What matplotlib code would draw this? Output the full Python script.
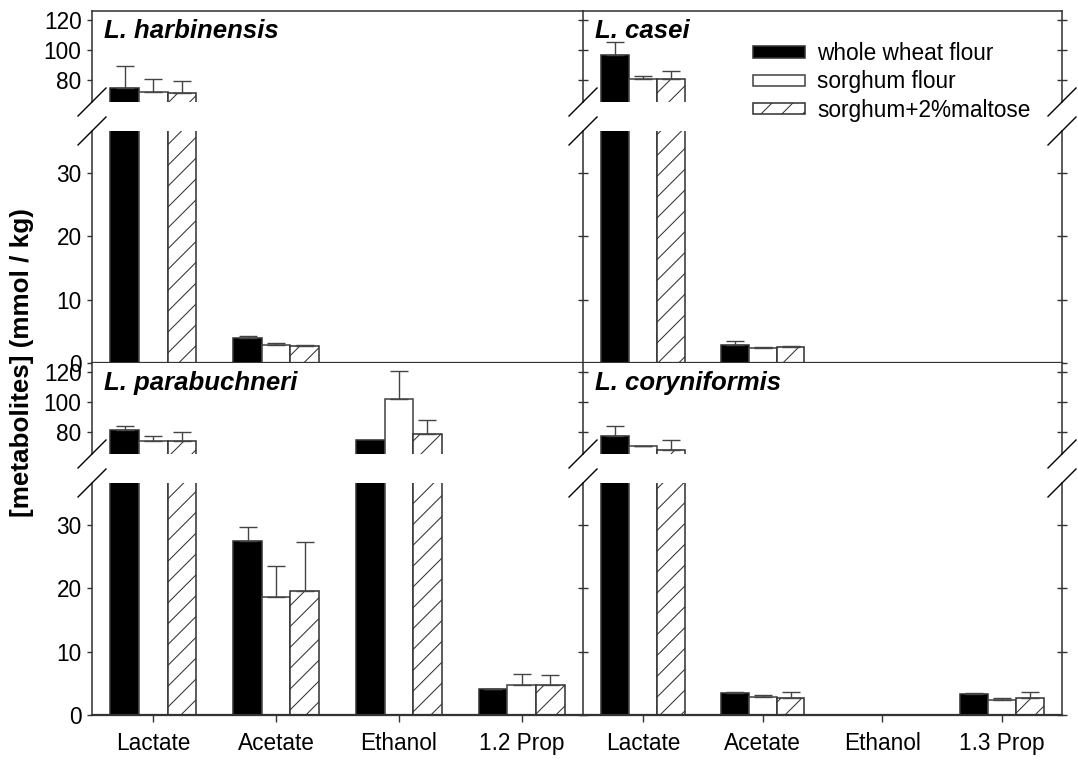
import matplotlib.pyplot as plt
from matplotlib.lines import Line2D
from matplotlib.patches import Patch
import numpy as np

plt.rcParams['font.family'] = ['Liberation Sans', 'DejaVu Sans']
plt.rcParams['hatch.linewidth'] = 0.6

# metabolite categories on the x axis
cats_left = ['Lactate', 'Acetate', 'Ethanol', '1.2 Prop']
cats_right = ['Lactate', 'Acetate', 'Ethanol', '1.3 Prop']
series_names = ['whole wheat flour', 'sorghum flour', 'sorghum+2%maltose']

# mmol / kg, order: Lactate, Acetate, Ethanol, Prop
harb_wheat = [74.7, 3.9, 0, 0]
harb_wheat_err = [14.8, 0.4, 0, 0]
harb_sorghum = [72.2, 2.85, 0, 0]
harb_sorghum_err = [8.3, 0.25, 0, 0]
harb_maltose = [71.1, 2.7, 0, 0]
harb_maltose_err = [8.0, 0.1, 0, 0]

casei_wheat = [96.7, 2.85, 0, 0]
casei_wheat_err = [8.3, 0.65, 0, 0]
casei_sorghum = [80.6, 2.4, 0, 0]
casei_sorghum_err = [2.2, 0.2, 0, 0]
casei_maltose = [80.6, 2.5, 0, 0]
casei_maltose_err = [5.3, 0.15, 0, 0]

parab_wheat = [81.5, 27.5, 74.9, 4.1]
parab_wheat_err = [2.2, 2.1, 0, 0.05]
parab_sorghum = [74.1, 18.6, 102.2, 4.8]
parab_sorghum_err = [3.0, 4.9, 18.6, 1.6]
parab_maltose = [74.1, 19.5, 78.7, 4.8]
parab_maltose_err = [5.6, 7.8, 9.0, 1.45]

coryn_wheat = [77.1, 3.45, 0, 3.35]
coryn_wheat_err = [6.9, 0.1, 0, 0.05]
coryn_sorghum = [70.4, 2.9, 0, 2.3]
coryn_sorghum_err = [0.4, 0.3, 0, 0.45]
coryn_maltose = [68.0, 2.65, 0, 2.75]
coryn_maltose_err = [6.7, 0.9, 0, 0.8]

W, H = 1078, 765
DPI = 125
fig = plt.figure(figsize=(W / DPI, H / DPI), dpi=DPI)


def rect(x0, y0, x1, y1):
    # pixel box (y down) -> figure fraction box
    return [x0 / W, 1 - y1 / H, (x1 - x0) / W, (y1 - y0) / H]


def fx(x):
    return x / W


def fy(y):
    return 1 - y / H


spine_col = '#333333'
styles = [dict(color='black', edgecolor='#333333'),
          dict(color='white', edgecolor='#444444'),
          dict(color='white', edgecolor='#333333', hatch='//')]
bw = 0.233
offsets = [-bw, 0, bw]
tick_fs = 13


def break_mark(x, y):
    d = 14
    fig.add_artist(Line2D([fx(x - d), fx(x + d)], [fy(y + d), fy(y - d)],
                          color='black', lw=0.8))


def panel(col, row, name, cats, vals, errs):
    x0, x1 = [(92, 583), (583, 1062)][col]
    ytop = [11, 363][row]
    ax_hi = fig.add_axes(rect(x0, ytop, x1, ytop + 91))
    ax_lo = fig.add_axes(rect(x0, ytop + 120, x1, ytop + 352))
    x = np.arange(len(cats))
    for ax in (ax_hi, ax_lo):
        for i in range(3):
            ax.bar(x + offsets[i], vals[i], bw, linewidth=0.9, **styles[i])
            e = np.array(errs[i])
            m = e > 0
            ax.errorbar((x + offsets[i])[m], np.array(vals[i])[m],
                        yerr=[np.zeros(m.sum()), e[m]], fmt='none',
                        ecolor='#444444', elinewidth=0.8, capsize=5,
                        capthick=0.8)
        ax.set_xlim(-0.5, 3.5)
        for s in ax.spines.values():
            s.set_color(spine_col)
            s.set_linewidth(0.9)
        ax.tick_params(axis='both', colors=spine_col, labelcolor='black',
                       labelsize=tick_fs, width=0.8, length=3)
    ax_hi.set_ylim(65.3, 126)
    ax_lo.set_ylim(0, 36.6)
    ax_hi.set_yticks([80, 100, 120])
    ax_lo.set_yticks([0, 10, 20, 30])
    ax_hi.spines['bottom'].set_visible(False)
    ax_lo.spines['top'].set_visible(False)
    ax_lo.spines['bottom'].set_linewidth(1.3)
    ax_hi.set_xticks([])
    if row == 1:
        ax_lo.set_xticks(x)
        ax_lo.set_xticklabels(cats)
        ax_lo.tick_params(axis='x', length=4, pad=6)
    else:
        ax_lo.set_xticks([])
    if col == 0:
        for ax in (ax_hi, ax_lo):
            ax.spines['right'].set_visible(False)
            ax.tick_params(axis='y', direction='out', pad=3)
    else:
        for ax in (ax_hi, ax_lo):
            ax.tick_params(axis='y', direction='inout', length=6,
                           labelleft=False, right=True)
    if row == 1:
        ax_hi.spines['top'].set_visible(False)
    for xs in ([x0] if col == 0 else [x0, x1]):
        break_mark(xs, ytop + 91)
        break_mark(xs, ytop + 120)
    fig.text(fx(x0 + 12), fy(ytop + 27), name, fontsize=14.8,
             fontweight='bold', fontstyle='italic', va='baseline')
    return ax_hi


panel(0, 0, 'L. harbinensis', cats_left,
      [harb_wheat, harb_sorghum, harb_maltose],
      [harb_wheat_err, harb_sorghum_err, harb_maltose_err])
panel(1, 0, 'L. casei', cats_right,
      [casei_wheat, casei_sorghum, casei_maltose],
      [casei_wheat_err, casei_sorghum_err, casei_maltose_err])
panel(0, 1, 'L. parabuchneri', cats_left,
      [parab_wheat, parab_sorghum, parab_maltose],
      [parab_wheat_err, parab_sorghum_err, parab_maltose_err])
panel(1, 1, 'L. coryniformis', cats_right,
      [coryn_wheat, coryn_sorghum, coryn_maltose],
      [coryn_wheat_err, coryn_sorghum_err, coryn_maltose_err])

handles = [Patch(facecolor='black', edgecolor='#333333', lw=0.9),
           Patch(facecolor='white', edgecolor='#444444', lw=0.9),
           Patch(facecolor='white', edgecolor='#333333', hatch='//', lw=0.9)]
fig.legend(handles, series_names, loc='upper left',
           bbox_to_anchor=(fx(753), fy(42)), frameon=False, fontsize=13,
           borderpad=0, borderaxespad=0, handlelength=2.3,
           handleheight=0.4, handletextpad=0.55, labelspacing=0.24)

fig.text(fx(22), fy(363), '[metabolites] (mmol / kg)', rotation=90,
         fontsize=15, fontweight='bold', ha='center', va='center')

fig.savefig('out.png', dpi=DPI)
